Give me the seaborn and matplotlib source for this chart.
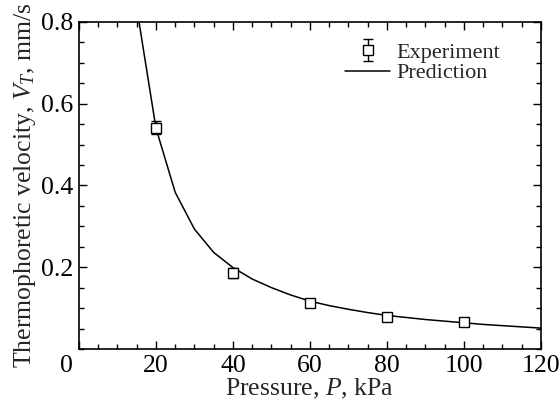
import matplotlib
matplotlib.use("Agg")
import matplotlib.pyplot as plt
import matplotlib.transforms as mtrans
from matplotlib.ticker import MultipleLocator
import seaborn as sns
import pandas as pd

# Experiment data
exp_pressure = [20, 40, 60, 80, 100]
exp_velocity = [0.541, 0.186, 0.113, 0.077, 0.067]
exp_error = [0.016, 0.013, 0.004, 0.005, 0.004]

# Prediction curve
pred_pressure = [15, 20, 25, 30, 35, 40, 45, 50, 55, 60, 65, 70, 75, 80,
                 85, 90, 95, 100, 105, 110, 115, 120]
pred_velocity = [0.835, 0.54, 0.383, 0.293, 0.236, 0.199, 0.171, 0.150, 0.132,
                 0.117, 0.106, 0.097, 0.089, 0.082, 0.077, 0.072, 0.068,
                 0.064, 0.060, 0.057, 0.054, 0.051]

x_ticks = [0, 20, 40, 60, 80, 100, 120]
y_ticks = [0.2, 0.4, 0.6, 0.8]
y_tick_labels = ["0.2", "0.4", "0.6", "0.8"]

sns.set_style("ticks")
plt.rcParams["font.family"] = ["Liberation Serif", "DejaVu Serif"]
plt.rcParams["mathtext.fontset"] = "custom"
plt.rcParams["mathtext.rm"] = "Liberation Serif"
plt.rcParams["mathtext.it"] = "Liberation Serif:italic"

FS = 18.5

fig = plt.figure(figsize=(5.6, 4.12), dpi=100)
ax = fig.add_axes([0.141, 0.153, 0.825, 0.794])

pred_df = pd.DataFrame({"P": pred_pressure, "V": pred_velocity})
sns.lineplot(data=pred_df, x="P", y="V", ax=ax, color="black", lw=1.1,
             label="Prediction", sort=False)

ax.errorbar(exp_pressure, exp_velocity, yerr=exp_error, fmt="s",
            mfc="white", mec="black", mew=1.0, ms=6.5, ecolor="black",
            elinewidth=1.0, capsize=3.5, capthick=1.0, label="Experiment",
            zorder=3)

ax.set_xlim(0, 120)
ax.set_ylim(0, 0.8)
ax.set_xticks(x_ticks)
ax.set_yticks(y_ticks)
ax.set_yticklabels(y_tick_labels)
ax.xaxis.set_minor_locator(MultipleLocator(5))
ax.yaxis.set_minor_locator(MultipleLocator(0.05))
ax.tick_params(which="both", direction="in", top=True, right=True,
               labelsize=FS, colors="black", width=1.0)
ax.tick_params(which="major", length=6, pad=4)
ax.tick_params(which="minor", length=3.5)
for s in ax.spines.values():
    s.set_linewidth(1.2)
    s.set_color("black")

# shift the "0" label left like reference
lbl0 = ax.get_xticklabels()[0]
lbl0.set_transform(lbl0.get_transform() +
                   mtrans.ScaledTranslation(-0.13, 0, fig.dpi_scale_trans))

ax.set_xlabel("Pressure, $P$, kPa", fontsize=FS, labelpad=0)
ax.set_ylabel("Thermophoretic velocity, $V_T$, mm/s", fontsize=FS, labelpad=2)

handles, labels = ax.get_legend_handles_labels()
order = [labels.index("Experiment"), labels.index("Prediction")]
leg = ax.legend([handles[i] for i in order], [labels[i] for i in order],
                loc="upper right", frameon=False, fontsize=16,
                handlelength=2.0, handletextpad=0.3, labelspacing=0.0,
                borderaxespad=0.0, bbox_to_anchor=(0.931, 0.965))

fig.savefig("out.png", dpi=100)
